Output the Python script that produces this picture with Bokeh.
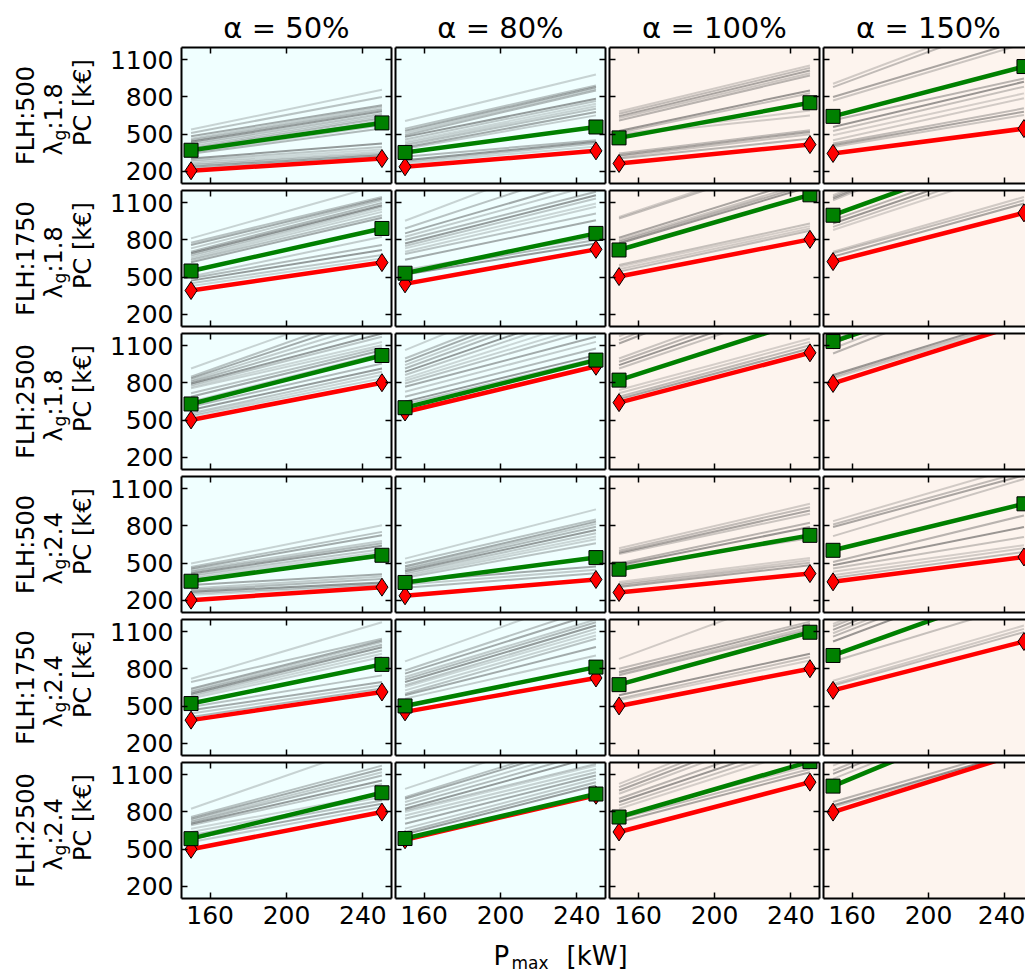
import math

from bokeh.core.properties import value
from bokeh.embed import file_html
from bokeh.layouts import column, row
from bokeh.models import FixedTicker, LinearAxis, Range1d
from bokeh.plotting import figure
from bokeh.resources import INLINE

# ---------------------------------------------------------------- data
FLH = [500, 1750, 2500, 500, 1750, 2500]
LAMBDA_G = ["1.8", "1.8", "1.8", "2.4", "2.4", "2.4"]
ALPHA_SHARE = ["50%", "80%", "100%", "150%"]
P_MAX = [150, 250]
X_TICKS = [160, 200, 240]
Y_TICKS = [200, 500, 800, 1100]

# production cost [k€] of the green configuration at P_max = 150 / 250 kW
# (one row per FLH/lambda case, one entry per alpha column)
GREEN_150 = [
    [369, 351, 469, 643],
    [549, 531, 719, 1000],
    [630, 600, 823, 1135],
    [353, 343, 450, 603],
    [520, 501, 673, 909],
    [584, 585, 759, 1009],
]
GREEN_250 = [
    [590, 557, 753, 1046],
    [893, 853, 1165, 1560],
    [1022, 985, 1318, 1650],
    [563, 544, 724, 979],
    [837, 815, 1097, 1465],
    [955, 945, 1207, 1650],
]
# production cost [k€] of the red configuration at P_max = 150 / 250 kW
RED_150 = [
    [203, 235, 262, 343],
    [391, 445, 504, 625],
    [501, 565, 641, 796],
    [200, 235, 262, 348],
    [386, 453, 501, 627],
    [498, 575, 638, 799],
]
RED_250 = [
    [302, 364, 415, 544],
    [617, 724, 805, 1019],
    [802, 935, 1044, 1285],
    [305, 367, 415, 549],
    [614, 727, 802, 1022],
    [799, 935, 1041, 1285],
]

# remaining configurations: (cost at 150 kW, cost at 250 kW), per alpha column
GREY_FLH500_L18 = [
    [(536, 858), (509, 799), (482, 732), (463, 719), (450, 700), (437, 684), (423, 665),
     (409, 651), (396, 638), (383, 625), (364, 606), (352, 571), (340, 545), (302, 423),
     (289, 396), (275, 375), (262, 356), (249, 340), (235, 329), (222, 316)],
    [(606, 982), (544, 893), (526, 880), (509, 866), (491, 853), (477, 786), (456, 767),
     (437, 745), (423, 724), (409, 705), (391, 678), (380, 651), (316, 450), (289, 437),
     (275, 423), (262, 400)],
    [(683, 1054), (664, 1035), (645, 1014), (629, 992), (610, 973), (525, 853), (510, 830),
     (500, 690), (490, 650), (343, 531), (329, 517), (316, 498), (302, 463)],
    [(907, 1490), (880, 1450), (799, 1260), (772, 1230), (611, 950), (557, 923), (525, 883),
     (490, 829), (450, 790), (423, 708), (410, 681), (396, 654)],
]
GREY_FLH1750_L18 = [
    [(813, 1248), (778, 1148), (759, 1135), (732, 1121), (705, 1100), (692, 1081), (678, 1068),
     (665, 1049), (651, 1027), (638, 1000), (620, 980), (504, 826), (490, 759), (471, 719),
     (450, 678), (428, 651)],
    [(955, 1540), (893, 1400), (853, 1300), (826, 1250), (799, 1190), (772, 1162), (751, 1135),
     (732, 1095), (705, 1068), (686, 1014), (640, 960), (557, 826), (540, 799), (520, 772)],
    [(987, 1500), (974, 1480), (818, 1300), (799, 1270), (786, 1250), (772, 1230), (598, 933),
     (584, 912), (563, 893), (544, 874)],
    [(1162, 1800), (1148, 1780), (1135, 1760), (1121, 1740), (960, 1500), (933, 1460),
     (906, 1430), (880, 1390), (705, 1148), (692, 1121), (665, 1095)],
]
GREY_FLH2500_L18 = [
    [(917, 1468), (850, 1400), (837, 1350), (823, 1300), (810, 1250), (796, 1200), (783, 1173),
     (770, 1132), (756, 1105), (716, 1087), (689, 1065), (649, 1038), (608, 958), (582, 917),
     (555, 890), (541, 864), (530, 837)],
    [(1065, 1700), (998, 1600), (971, 1560), (944, 1520), (917, 1480), (890, 1420), (864, 1380),
     (837, 1330), (818, 1280), (796, 1240), (770, 1173), (729, 1132), (689, 1079), (649, 1025),
     (630, 998)],
    [(1178, 1800), (1146, 1760), (1119, 1720), (998, 1560), (971, 1520), (944, 1480),
     (917, 1440), (743, 1159), (716, 1132), (689, 1105), (670, 1079)],
    [(1172, 1800), (1146, 1760), (1119, 1720), (1079, 1680), (1038, 1640), (864, 1340),
     (850, 1320), (837, 1300)],
]
GREY_FLH500_L24 = [
    [(496, 805), (469, 752), (456, 725), (443, 679), (429, 660), (416, 639), (402, 612),
     (389, 590), (375, 571), (362, 550), (322, 410), (295, 391), (281, 370), (268, 343),
     (255, 330), (241, 321)],
    [(536, 934), (501, 853), (474, 835), (461, 816), (447, 794), (434, 768), (420, 741),
     (407, 714), (393, 692), (380, 660), (353, 472), (326, 445), (300, 418)],
    [(619, 979), (600, 952), (584, 925), (573, 898), (496, 826), (483, 791), (470, 700),
     (347, 541), (333, 522), (320, 503), (306, 482)],
    [(839, 1290), (812, 1240), (791, 1210), (718, 1180), (509, 885), (483, 791), (456, 711),
     (429, 644), (402, 620), (380, 590)],
]
GREY_FLH1750_L24 = [
    [(721, 1178), (694, 1044), (641, 1030), (627, 1017), (614, 995), (600, 976), (587, 950),
     (574, 923), (560, 896), (493, 748), (466, 694), (439, 668), (412, 641)],
    [(861, 1412), (788, 1300), (762, 1250), (735, 1200), (716, 1178), (694, 1151), (668, 1124),
     (654, 1098), (627, 1071), (600, 1044), (587, 977), (560, 909)],
    [(882, 1450), (802, 1183), (775, 1164), (761, 1138), (748, 1120), (587, 923), (560, 896),
     (547, 869)],
    [(1164, 1800), (1143, 1770), (1116, 1740), (1089, 1700), (1062, 1660), (1022, 1600),
     (860, 1330), (705, 1151), (678, 1124), (665, 1098)],
]
GREY_FLH2500_L24 = [
    [(826, 1363), (759, 1175), (745, 1148), (732, 1121), (719, 1095), (705, 1054), (692, 1027),
     (665, 947), (638, 920), (611, 893), (584, 866), (557, 839)],
    [(987, 1500), (920, 1400), (907, 1370), (880, 1330), (853, 1290), (826, 1250), (813, 1189),
     (799, 1175), (772, 1148), (745, 1121), (705, 1095), (665, 1068), (638, 1041), (620, 1014)],
    [(1027, 1650), (1001, 1600), (974, 1560), (947, 1520), (907, 1450), (880, 1400),
     (853, 1360), (826, 1320), (772, 1175), (745, 1148), (719, 1121)],
    [(1175, 1800), (1135, 1760), (1108, 1720), (1068, 1680), (880, 1330), (853, 1300),
     (840, 1290)],
]
GREY = [GREY_FLH500_L18, GREY_FLH1750_L18, GREY_FLH2500_L18,
        GREY_FLH500_L24, GREY_FLH1750_L24, GREY_FLH2500_L24]

# ---------------------------------------------------------------- style
FONT = "DejaVu Sans"
BG = ["#f0ffff", "#f0ffff", "#fdf4ee", "#fdf4ee"]
GREY_COLOR = "#383838"
GREY_ALPHAS = [0.22, 0.3, 0.42, 0.25, 0.35, 0.5, 0.28, 0.2]
GREEN = "#008000"
RED = "#ff0000"

# ---------------------------------------------------------------- layout (pixels)
PAGE_W, PAGE_H = 1025, 974
LABEL_W = 100          # column holding the row descriptions
FRAME_W, FRAME_H = 210, 136
LAST_FRAME_W = 202     # right-most column runs into the page edge
COL_STEP, ROW_STEP = 214, 143
FIRST_FRAME_X, FIRST_FRAME_Y = 181, 47
TITLE_H = 46
XLABEL_H = 40
X_RANGE = (145, 255)
Y_RANGE = (100, 1200)
# distance between the requested baseline and the anchor of an "alphabetic" text glyph
BASE_SHIFT = 0.3


def frame_axis(ticks, labelled, standoff=8):
    ax = LinearAxis(
        ticker=FixedTicker(ticks=ticks, minor_ticks=[]),
        axis_line_color="black", axis_line_width=2,
        major_tick_in=6, major_tick_out=0,
        major_tick_line_color="black", major_tick_line_width=1.5,
        minor_tick_in=0, minor_tick_out=0,
    )
    if labelled:
        ax.major_label_text_font = FONT
        ax.major_label_text_font_size = "25px"
        ax.major_label_text_color = "black"
        ax.major_label_standoff = standoff
    else:
        ax.major_label_overrides = {t: "" for t in ticks}
        ax.major_label_text_font_size = "0px"
        ax.major_label_standoff = 0
    return ax


def make_panel(r, c):
    last_col = c == 3
    fw = LAST_FRAME_W if last_col else FRAME_W
    x_end = X_RANGE[0] + (X_RANGE[1] - X_RANGE[0]) * fw / FRAME_W
    p = figure(
        frame_width=fw, frame_height=FRAME_H,
        x_range=Range1d(X_RANGE[0], x_end), y_range=Range1d(*Y_RANGE),
        x_axis_location=None, y_axis_location=None,
        toolbar_location=None, output_backend="svg",
        background_fill_color=BG[c], border_fill_color="white",
        outline_line_color=None,
        min_border_left=(FIRST_FRAME_X - LABEL_W) if c == 0 else 2,
        min_border_right=0 if last_col else 2,
        min_border_top=(FIRST_FRAME_Y - TITLE_H) if r == 0 else 4,
        min_border_bottom=36 if r == 5 else 3,
    )
    for g in p.grid:
        g.visible = False

    p.add_layout(frame_axis(X_TICKS, r == 5, standoff=7), "below")
    p.add_layout(frame_axis(X_TICKS, False), "above")
    p.add_layout(frame_axis(Y_TICKS, c == 0, standoff=8), "left")
    if not last_col:
        p.add_layout(frame_axis(Y_TICKS, False), "right")

    pairs = GREY[r][c]
    p.multi_line(
        xs=[list(P_MAX) for _ in pairs],
        ys=[[a, b] for a, b in pairs],
        line_color=GREY_COLOR,
        line_alpha=[GREY_ALPHAS[i % len(GREY_ALPHAS)] for i in range(len(pairs))],
        line_width=2,
    )

    red = [RED_150[r][c], RED_250[r][c]]
    p.line(P_MAX, red, line_color=RED, line_width=4.5)
    p.scatter(P_MAX, red, marker="diamond", size=18,
              fill_color=RED, line_color="black", line_width=1)

    green = [GREEN_150[r][c], GREEN_250[r][c]]
    p.line(P_MAX, green, line_color=GREEN, line_width=4.5)
    p.scatter(P_MAX, green, marker="square", size=14,
              fill_color=GREEN, line_color="black", line_width=1)
    return p


def text_canvas(w, h, x0, y0):
    """Blank figure whose data coordinates equal page pixels."""
    f = figure(width=w, height=h,
               x_range=Range1d(x0, x0 + w), y_range=Range1d(y0 + h, y0),
               x_axis_location=None, y_axis_location=None,
               toolbar_location=None, output_backend="svg",
               outline_line_color=None, min_border=0,
               background_fill_color="white", border_fill_color="white")
    for g in f.grid:
        g.visible = False
    return f


def put(fig, xs, ys, texts, size, angle=0.0, align="center"):
    """Place texts so that their baseline sits at the given page pixels."""
    shift = BASE_SHIFT * size
    if angle:
        xs = [x - shift for x in xs]
    else:
        ys = [y - shift for y in ys]
    fig.text(x=xs, y=ys, text=texts, angle=angle,
             text_align=align, text_baseline="alphabetic",
             text_font=value(FONT), text_font_size=f"{size}px", text_color="black")


# column titles
title_fig = text_canvas(PAGE_W - LABEL_W, TITLE_H, LABEL_W, 0)
put(title_fig,
    [FIRST_FRAME_X + COL_STEP * c + FRAME_W / 2 for c in range(4)], [36] * 4,
    [f"α = {a}" for a in ALPHA_SHARE], 29)

# row descriptions (rotated, reading upwards)
label_fig = text_canvas(LABEL_W, PAGE_H, 0, 0)
up = math.pi / 2
centres = [FIRST_FRAME_Y + ROW_STEP * r + FRAME_H / 2 for r in range(6)]
put(label_fig, [33] * 6, centres, [f"FLH:{v}" for v in FLH], 24, angle=up)
put(label_fig, [90] * 6, [yc - 13 for yc in centres], ["PC [k€]"] * 6, 24, angle=up)
lam_start = [yc + 4 + 36 for yc in centres]
put(label_fig, [61] * 6, lam_start, ["λ"] * 6, 24, angle=up, align="left")
put(label_fig, [65] * 6, [s - 15 for s in lam_start], ["g"] * 6, 17, angle=up, align="left")
put(label_fig, [61] * 6, [s - 26 for s in lam_start],
    [f":{v}" for v in LAMBDA_G], 24, angle=up, align="left")

# shared x-axis label
xlabel_fig = text_canvas(PAGE_W - LABEL_W, XLABEL_H, LABEL_W, PAGE_H - XLABEL_H)
put(xlabel_fig, [493], [963], ["P"], 26, align="left")
put(xlabel_fig, [511], [968], ["max"], 17, align="left")
put(xlabel_fig, [566], [963], ["[kW]"], 26, align="left")

panel_rows = [row(*[make_panel(r, c) for c in range(4)]) for r in range(6)]
layout = row(label_fig, column(title_fig, *panel_rows, xlabel_fig))

with open("out.html", "w") as fh:
    fh.write(file_html(layout, INLINE))
